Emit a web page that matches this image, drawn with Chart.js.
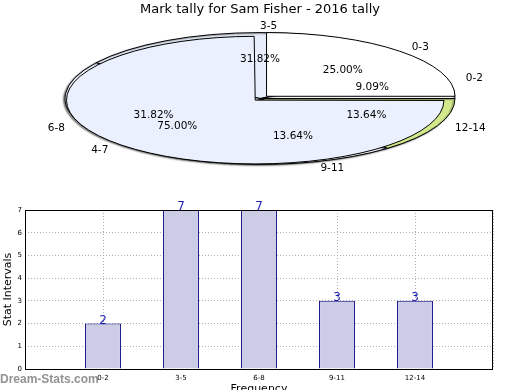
<!DOCTYPE html>
<html>
<head>
<meta charset="utf-8">
<script src="https://cdn.jsdelivr.net/npm/chart.js@4/dist/chart.umd.min.js"></script>
<style>
  html, body { margin: 0; padding: 0; background: #fff; overflow: hidden; width: 520px; height: 390px; }
  #wrap { position: relative; width: 520px; height: 390px; }
  canvas { position: absolute; left: 0; }
  #pieA, #pieB, #pieC { top: 0; }
  #bars { top: 200px; }
  #mark { position: absolute; left: 0; top: 372px; font: bold 12px "Liberation Sans", sans-serif; color: rgba(110, 110, 110, 0.75); }
</style>
</head>
<body>
<div id="wrap">
  <canvas id="pieA" width="520" height="200"></canvas>
  <canvas id="pieB" width="520" height="200"></canvas>
  <canvas id="pieC" width="520" height="200"></canvas>
  <canvas id="bars" width="520" height="200"></canvas>
  <div id="mark">Dream-Stats.com</div>
</div>
<script>
// data
const categories = ['0-2', '3-5', '6-8', '9-11', '12-14'];
const tally = [2, 7, 7, 3, 3];
const groups = ['0-3', '4-7'];
const groupShare = [25, 75];
const yMax = 7;

const titleText = 'Mark tally for Sam Fisher - 2016 tally';
const squash = 0.338;          // ellipse height / width
const pieRadius = 195;
const titleBlock = 21.6;       // 13px * 1.2 + 2 + 4
const pieBottomPad = 24.6;
const none = 'rgba(0,0,0,0)';

// the pie is drawn squashed (and flipped, so slices run anticlockwise from 3 o'clock)
const ellipsePlugin = {
  id: 'ellipse',
  beforeDatasetDraw(chart, args, opts) {
    const ctx = chart.ctx;
    const arc = args.meta.data[0];
    ctx.save();
    if (opts.shadow) {
      ctx.shadowColor = 'rgba(0,0,0,0.45)';
      ctx.shadowOffsetX = -1.5;
      ctx.shadowOffsetY = 1;
      ctx.shadowBlur = 1.5;
    }
    const base = ctx.getTransform();
    ctx.translate(arc.x, arc.y);
    ctx.scale(1, -squash);
    ctx.translate(-arc.x, -arc.y);
    const stroke = ctx.stroke;
    // keep outlines an even width
    ctx.stroke = function () {
      this.save();
      this.setTransform(base);
      stroke.call(this);
      this.restore();
    };
  },
  afterDatasetDraw(chart) {
    delete chart.ctx.stroke;
    chart.ctx.restore();
  }
};

function drawPieLabels(ctx, chart) {
  const meta = chart.getDatasetMeta(0);
  const values = chart.data.datasets[0].data;
  const total = values.reduce((s, v) => s + v, 0);
  const r = pieRadius;
  ctx.save();
  ctx.font = '10.5px "DejaVu Sans"';
  ctx.fillStyle = '#000';
  ctx.textBaseline = 'middle';
  meta.data.forEach((arc, i) => {
    const mid = (arc.startAngle + arc.endAngle) / 2;
    const c = Math.cos(mid), s = Math.sin(mid);
    ctx.textAlign = c > -1e-9 ? 'left' : 'right';
    ctx.fillText(chart.data.labels[i], arc.x + c * r * 1.1, arc.y - s * r * 1.1 * squash);
    ctx.textAlign = 'center';
    ctx.fillText((values[i] / total * 100).toFixed(2) + '%', arc.x + c * r * 0.6, arc.y - s * r * 0.6 * squash);
  });
  ctx.restore();
}

function pieOptions(extra) {
  return {
    responsive: false,
    animation: false,
    rotation: 90,
    layout: { padding: { top: titleBlock, bottom: pieBottomPad } },
    plugins: Object.assign({ ellipse: { shadow: false }, legend: { display: false }, tooltip: { enabled: false } }, extra)
  };
}

// under layer: the five stat intervals
const optsA = pieOptions({
  ellipse: { shadow: true },
  title: {
    display: true,
    text: titleText,
    color: '#000',
    font: { family: 'DejaVu Sans', size: 13, weight: 'normal' },
    padding: { top: 2, bottom: 4 }
  }
});
optsA.layout.padding.top = 0;
const pieA = new Chart(document.getElementById('pieA'), {
  type: 'pie',
  data: {
    labels: categories,
    datasets: [{
      data: tally,
      backgroundColor: ['#ffffff', '#e8eefb', '#eef3fd', '#f4f6fd', '#d2ea8c'],
      borderColor: '#000',
      borderWidth: 1,
      radius: pieRadius,
      clip: false
    }]
  },
  options: optsA,
  plugins: [ellipsePlugin]
});

// the two wider groups, pulled apart a little: 0-3 ...
const pieB = new Chart(document.getElementById('pieB'), {
  type: 'pie',
  data: {
    labels: groups,
    datasets: [{
      data: groupShare,
      backgroundColor: ['#ffffff', none],
      borderColor: ['#000', none],
      borderWidth: 1,
      offset: [37, 0],
      radius: 188.5,
      clip: false
    }]
  },
  options: pieOptions({}),
  plugins: [ellipsePlugin]
});

// ... and 4-7; this top layer also writes the labels of both pies
new Chart(document.getElementById('pieC'), {
  type: 'pie',
  data: {
    labels: groups,
    datasets: [{
      data: groupShare,
      backgroundColor: [none, '#eaf0fd'],
      borderColor: [none, '#000'],
      borderWidth: 1,
      offset: [0, 27],
      radius: 182,
      clip: false
    }]
  },
  options: pieOptions({}),
  plugins: [ellipsePlugin, {
    id: 'pieLabels',
    afterDraw(chart) {
      drawPieLabels(chart.ctx, pieA);
      drawPieLabels(chart.ctx, pieB);
    }
  }]
});

const framePlugin = {
  id: 'frame',
  afterDraw(chart) {
    const { ctx, chartArea: a } = chart;
    ctx.save();
    ctx.strokeStyle = '#000';
    ctx.lineWidth = 1;
    ctx.strokeRect(Math.round(a.left) + 0.5, Math.round(a.top) + 0.5, Math.round(a.width) - 1, Math.round(a.height));
    ctx.restore();
  }
};

const valueLabels = {
  id: 'valueLabels',
  afterDraw(chart) {
    const ctx = chart.ctx;
    const meta = chart.getDatasetMeta(0);
    ctx.save();
    ctx.font = '12px "DejaVu Sans"';
    ctx.fillStyle = '#1c1cb0';
    ctx.textAlign = 'center';
    ctx.textBaseline = 'alphabetic';
    meta.data.forEach((bar, i) => ctx.fillText(String(tally[i]), bar.x, bar.y));
    ctx.restore();
  }
};

new Chart(document.getElementById('bars'), {
  type: 'bar',
  data: {
    datasets: [{
      data: tally.map((v, i) => ({ x: i + 1, y: v })),
      backgroundColor: '#ccccE6',
      borderColor: '#000080',
      borderWidth: 1,
      barPercentage: 0.46,
      categoryPercentage: 1
    }]
  },
  options: {
    responsive: false,
    animation: false,
    layout: { padding: { top: 10, right: 27, left: 0, bottom: 0 } },
    plugins: { legend: { display: false }, tooltip: { enabled: false } },
    scales: {
      x: {
        type: 'linear',
        min: 0,
        max: categories.length + 1,
        offset: false,
        z: 1,
        afterFit: s => { s.height = 31; },
        grid: { color: '#b0b0b0', drawTicks: false, offset: false },
        border: { display: false, dash: [1, 2] },
        ticks: {
          stepSize: 1,
          autoSkip: false,
          maxRotation: 0,
          padding: 5,
          color: '#000',
          font: { family: 'DejaVu Sans', size: 7 },
          callback: v => categories[v - 1] || ''
        },
        title: { display: true, text: 'Frequency', color: '#000', font: { family: 'DejaVu Sans', size: 11 } }
      },
      y: {
        min: 0,
        max: yMax,
        z: 1,
        afterFit: s => { s.width = 25; },
        grid: { color: '#b0b0b0', drawTicks: false },
        border: { display: false, dash: [1, 2] },
        ticks: { stepSize: 1, padding: 3, color: '#000', font: { family: 'DejaVu Sans', size: 7 } },
        title: { display: true, text: 'Stat Intervals', color: '#000', padding: { top: 2, bottom: 2 }, font: { family: 'DejaVu Sans', size: 11 } }
      }
    }
  },
  plugins: [framePlugin, valueLabels]
});
</script>
</body>
</html>
